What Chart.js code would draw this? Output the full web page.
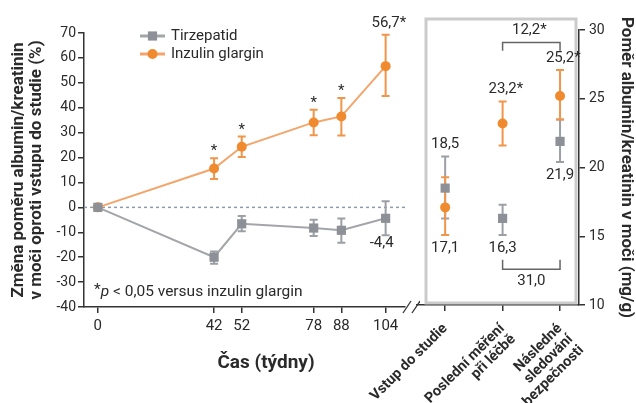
<!DOCTYPE html>
<html>
<head>
<meta charset="utf-8">
<script src="https://cdn.jsdelivr.net/npm/chart.js@4.4.1/dist/chart.umd.min.js"></script>
<style>
  html, body { margin: 0; padding: 0; background: #fff; }
  #wrap { position: relative; width: 636px; height: 403px; overflow: hidden; }
  #left { position: absolute; left: 0; top: 0; width: 420px; height: 403px; }
  #right { position: absolute; left: 340px; top: 0; width: 296px; height: 403px; }
</style>
</head>
<body>
<div id="wrap">
  <div id="left"><canvas id="uacrChange"></canvas></div>
  <div id="right"><canvas id="uacrAbs"></canvas></div>
</div>
<script>
// --- data: change from baseline in UACR (%) ---
const weeks = [0, 42, 52, 78, 88, 104];
const tirzMean = [0, -20.0, -6.6, -8.3, -9.2, -4.4];
const tirzLow = [0, -22.6, -9.6, -11.5, -14.2, -11.2];
const tirzHigh = [0, -17.7, -3.5, -5.0, -4.5, 2.5];
const glarMean = [0, 15.6, 24.3, 34.1, 36.5, 56.7];
const glarLow = [0, 11.4, 20.2, 29.0, 28.9, 44.7];
const glarHigh = [0, 19.7, 28.4, 39.2, 43.9, 69.3];
const glarStar = [false, true, true, true, true, false];
const glarEndLabel = '56,7*';
const tirzEndLabel = '-4,4';

// --- data: absolute UACR (mg/g) ---
const visits = ['Vstup do studie', ['Poslední měření', 'při léčbě'], ['Následné', 'sledování', 'bezpečnosti']];
const tirzUacr = [18.5, 16.3, 21.9];
const tirzUacrLow = [16.3, 15.1, 20.4];
const tirzUacrHigh = [20.8, 17.3, 23.5];
const tirzUacrLabels = ['18,5', '16,3', '21,9'];
const tirzLabelAbove = [true, false, false];
const glarUacr = [17.1, 23.2, 25.2];
const glarUacrLow = [15.1, 21.6, 23.5];
const glarUacrHigh = [19.3, 24.8, 27.1];
const glarUacrLabels = ['17,1', '23,2*', '25,2*'];
const glarLabelAbove = [false, true, true];
const diffLabels = ['12,2*', '31,0'];

const FONT = 'Roboto, "Open Sans", sans-serif';
const ORANGE = '#f08a2e';
const ORANGE_LINE = '#f3a56b';
const ORANGE_BAR = '#f0954a';
const GRAY = '#8d9096';
const GRAY_LINE = '#a3a5a9';
const GRAY_BAR = '#9c9fa6';
const INK = '#2a2a2a';

// error bars with small caps
function drawBars(ctx, xs, ys, pos, lo, hi, color) {
    ctx.save();
    ctx.strokeStyle = color;
    ctx.lineWidth = 2;
    pos.forEach((p, i) => {
        if (lo[i] === hi[i]) return;
        const px = xs.getPixelForValue(p);
        const y1 = ys.getPixelForValue(lo[i]);
        const y2 = ys.getPixelForValue(hi[i]);
        ctx.beginPath();
        ctx.moveTo(px, y1); ctx.lineTo(px, y2);
        ctx.moveTo(px - 4, y1); ctx.lineTo(px + 4, y1);
        ctx.moveTo(px - 4, y2); ctx.lineTo(px + 4, y2);
        ctx.stroke();
    });
    ctx.restore();
}

// label whose number part is centred on x, star hanging to the right
function starLabel(ctx, text, x, y) {
    const num = text.replace('*', '');
    const w = ctx.measureText(num).width;
    ctx.textAlign = 'left';
    ctx.fillText(text, x - w / 2, y);
}

const leftExtras = {
    id: 'leftExtras',
    beforeDatasetsDraw(chart) {
        const { ctx, scales: { x, y }, chartArea: a } = chart;
        // dotted zero line
        ctx.save();
        ctx.strokeStyle = '#8e9aad';
        ctx.lineWidth = 1.5;
        ctx.setLineDash([3, 3]);
        ctx.beginPath();
        ctx.moveTo(a.left, y.getPixelForValue(0));
        ctx.lineTo(a.right, y.getPixelForValue(0));
        ctx.stroke();
        ctx.restore();
        drawBars(ctx, x, y, weeks, tirzLow, tirzHigh, GRAY_BAR);
        drawBars(ctx, x, y, weeks, glarLow, glarHigh, ORANGE_BAR);
    },
    afterDraw(chart) {
        const { ctx, scales: { x, y }, chartArea: a } = chart;
        ctx.save();
        ctx.fillStyle = INK;

        // significance stars
        ctx.font = `15px ${FONT}`;
        ctx.textAlign = 'center';
        ctx.textBaseline = 'alphabetic';
        weeks.forEach((w, i) => {
            if (glarStar[i]) ctx.fillText('*', x.getPixelForValue(w), y.getPixelForValue(glarHigh[i]) - 3);
        });

        // values at week 104
        const last = weeks.length - 1;
        const px = x.getPixelForValue(weeks[last]);
        ctx.textBaseline = 'middle';
        starLabel(ctx, glarEndLabel, px, y.getPixelForValue(glarHigh[last]) - 11);
        ctx.textAlign = 'center';
        ctx.fillText(tirzEndLabel, px - 4, y.getPixelForValue(tirzLow[last]) + 8);

        // legend
        const lx = a.left + 56;
        chart.data.datasets.forEach((ds, i) => {
            const ly = a.top + 3 + i * 18;
            ctx.strokeStyle = ds.borderColor;
            ctx.lineWidth = 3;
            ctx.beginPath();
            ctx.moveTo(lx, ly); ctx.lineTo(lx + 25, ly);
            ctx.stroke();
            ctx.fillStyle = ds.backgroundColor;
            Chart.helpers.drawPoint(ctx, { pointStyle: ds.pointStyle, radius: ds.pointRadius, rotation: 0, borderWidth: 0 }, lx + 12.5, ly);
            ctx.fillStyle = INK;
            ctx.textAlign = 'left';
            ctx.fillText(ds.label, lx + 31, ly);
        });

        // footnote
        let fx = a.left + 10;
        const fy = a.bottom - 15;
        ctx.font = `15.5px ${FONT}`;
        ctx.fillText('*', fx, fy - 2);
        fx += ctx.measureText('*').width;
        ctx.font = `italic 15.5px ${FONT}`;
        ctx.fillText('p', fx, fy);
        fx += ctx.measureText('p').width;
        ctx.font = `15.5px ${FONT}`;
        ctx.fillText(' < 0,05 versus inzulin glargin', fx, fy);

        // x axis title
        ctx.font = `bold 19px ${FONT}`;
        ctx.textAlign = 'center';
        ctx.fillText('Čas (týdny)', a.left + 182, a.bottom + 56);

        // axis break marks
        ctx.strokeStyle = '#333';
        ctx.lineWidth = 1.3;
        [2, 11].forEach(dx => {
            const bx = a.right + dx;
            ctx.beginPath();
            ctx.moveTo(bx - 4, a.bottom + 6);
            ctx.lineTo(bx + 4, a.bottom - 6);
            ctx.stroke();
        });
        ctx.restore();
    }
};

const rightExtras = {
    id: 'rightExtras',
    beforeDatasetsDraw(chart) {
        const { ctx, scales: { x, y }, chartArea: a } = chart;
        ctx.save();
        ctx.strokeStyle = '#cbcbcb';
        ctx.lineWidth = 3;
        ctx.strokeRect(a.left + 9, a.top - 11, a.width - 12, a.height + 9);
        ctx.restore();
        const idx = visits.map((v, i) => i);
        drawBars(ctx, x, y, idx, tirzUacrLow, tirzUacrHigh, GRAY_BAR);
        drawBars(ctx, x, y, idx, glarUacrLow, glarUacrHigh, ORANGE_BAR);
    },
    afterDraw(chart) {
        const { ctx, scales: { x, y } } = chart;
        ctx.save();
        ctx.fillStyle = INK;
        ctx.font = `15px ${FONT}`;
        ctx.textBaseline = 'middle';
        const put = (labels, above, lo, hi) => {
            labels.forEach((t, i) => {
                const py = above[i] ? y.getPixelForValue(hi[i]) - 12 : y.getPixelForValue(lo[i]) + 13;
                starLabel(ctx, t, x.getPixelForValue(i), py);
            });
        };
        put(tirzUacrLabels, tirzLabelAbove, tirzUacrLow, tirzUacrHigh);
        put(glarUacrLabels, glarLabelAbove, glarUacrLow, glarUacrHigh);

        // brackets between last two visits
        const bx1 = x.getPixelForValue(1), bx2 = x.getPixelForValue(2);
        ctx.strokeStyle = '#666';
        ctx.lineWidth = 1.5;
        const bracket = (yv, endV) => {
            const by = y.getPixelForValue(yv), be = y.getPixelForValue(endV);
            ctx.beginPath();
            ctx.moveTo(bx1, be); ctx.lineTo(bx1, by); ctx.lineTo(bx2, by); ctx.lineTo(bx2, be);
            ctx.stroke();
        };
        bracket(29.1, 28.5);
        bracket(12.6, 13.3);
        ctx.textAlign = 'center';
        ctx.fillText(diffLabels[0], (bx1 + bx2) / 2 - 2, y.getPixelForValue(30.0));
        ctx.fillText(diffLabels[1], (bx1 + bx2) / 2, y.getPixelForValue(11.7));
        ctx.restore();
    }
};

const axisGrid = { display: true, drawOnChartArea: false, drawTicks: true, tickLength: 6, color: '#333', lineWidth: 1.5 };
const axisBorder = { display: true, color: '#333', width: 1.5 };

// left panel: % change over time
new Chart(document.getElementById('uacrChange'), {
    type: 'line',
    data: {
        datasets: [{
            label: 'Tirzepatid',
            data: weeks.map((w, i) => ({ x: w, y: tirzMean[i] })),
            borderColor: GRAY_LINE,
            backgroundColor: GRAY,
            pointStyle: 'rect',
            pointRadius: 6.5,
            pointBorderWidth: 0,
            borderWidth: 2,
            tension: 0
        }, {
            label: 'Inzulin glargin',
            data: weeks.map((w, i) => ({ x: w, y: glarMean[i] })),
            borderColor: ORANGE_LINE,
            backgroundColor: ORANGE,
            pointStyle: 'circle',
            pointRadius: 5,
            pointBorderWidth: 0,
            borderWidth: 2,
            tension: 0
        }]
    },
    options: {
        responsive: true,
        maintainAspectRatio: false,
        animation: false,
        layout: { padding: { left: 0, right: 15, top: 33, bottom: 0 } },
        plugins: { legend: { display: false }, tooltip: { enabled: false } },
        scales: {
            x: {
                type: 'linear',
                min: -5,
                max: 111,
                afterBuildTicks: s => { s.ticks = weeks.map(v => ({ value: v })); },
                afterFit: s => { s.height = 96; },
                grid: axisGrid,
                border: axisBorder,
                ticks: { font: { family: FONT, size: 15 }, color: INK, padding: 4, maxRotation: 0, autoSkip: false }
            },
            y: {
                min: -40,
                max: 70,
                afterFit: s => { s.width = 84; },
                grid: axisGrid,
                border: axisBorder,
                ticks: { stepSize: 10, font: { family: FONT, size: 14 }, color: INK, padding: 2 },
                title: {
                    display: true,
                    text: ['Změna poměru albumin/kreatinin', 'v moči oproti vstupu do studie (%)'],
                    font: { family: FONT, size: 17, weight: 'bold', lineHeight: 1.1 },
                    color: INK,
                    padding: { top: 9, bottom: 0 }
                }
            }
        }
    },
    plugins: [leftExtras]
});

// right panel: absolute UACR per visit
new Chart(document.getElementById('uacrAbs'), {
    type: 'scatter',
    data: {
        datasets: [{
            label: 'Tirzepatid',
            data: tirzUacr.map((v, i) => ({ x: i, y: v })),
            backgroundColor: GRAY,
            pointStyle: 'rect',
            pointRadius: 6.5,
            pointBorderWidth: 0
        }, {
            label: 'Inzulin glargin',
            data: glarUacr.map((v, i) => ({ x: i, y: v })),
            backgroundColor: ORANGE,
            pointStyle: 'circle',
            pointRadius: 5,
            pointBorderWidth: 0
        }]
    },
    options: {
        responsive: true,
        maintainAspectRatio: false,
        animation: false,
        layout: { padding: { left: 77, right: 0, top: 30, bottom: 0 } },
        plugins: { legend: { display: false }, tooltip: { enabled: false } },
        scales: {
            x: {
                type: 'linear',
                min: -0.49,
                max: 2.33,
                afterBuildTicks: s => { s.ticks = visits.map((v, i) => ({ value: i })); },
                afterFit: s => { s.height = 98; s.paddingLeft = 0; s.paddingRight = 0; },
                grid: axisGrid,
                border: axisBorder,
                ticks: {
                    callback: v => visits[v],
                    font: { family: FONT, size: 14.5, weight: 'bold', lineHeight: 1.05 },
                    color: INK,
                    minRotation: 45,
                    maxRotation: 45,
                    autoSkip: false,
                    padding: 10
                }
            },
            y: {
                position: 'right',
                min: 10,
                max: 30,
                afterFit: s => { s.width = 57; },
                grid: axisGrid,
                border: axisBorder,
                ticks: { stepSize: 5, font: { family: FONT, size: 14 }, color: INK, padding: 4 },
                title: {
                    display: true,
                    text: 'Poměr albumin/kreatinin v moči (mg/g)',
                    font: { family: FONT, size: 17, weight: 'bold' },
                    color: INK,
                    padding: 0
                }
            }
        }
    },
    plugins: [rightExtras]
});
</script>
</body>
</html>
